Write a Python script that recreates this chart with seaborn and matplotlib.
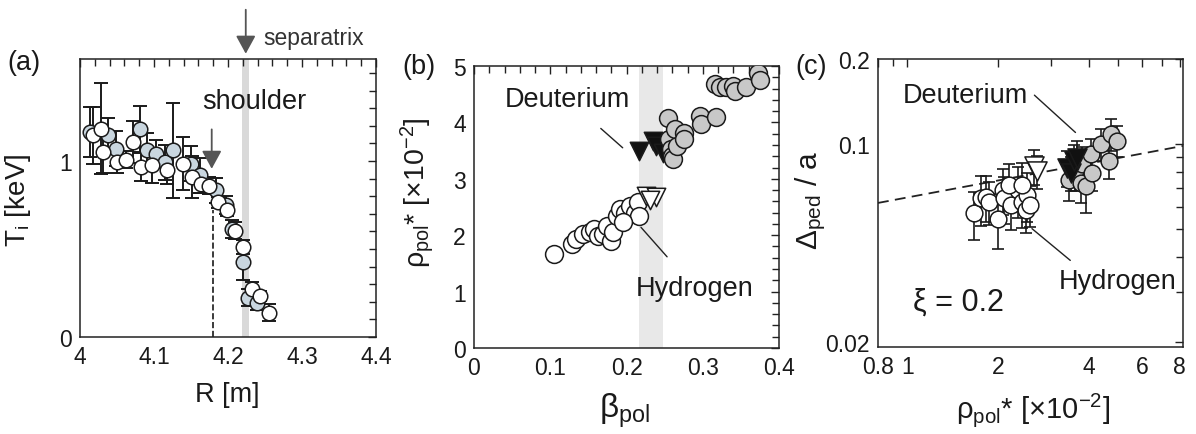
import matplotlib
matplotlib.use('Agg')
import numpy as np
import pandas as pd
import seaborn as sns
import matplotlib.pyplot as plt
from matplotlib.ticker import FixedLocator, MultipleLocator, NullFormatter

# ---- panel (a) : Ti profile
a_gray_R = [4.0135, 4.038, 4.049, 4.081, 4.090, 4.103, 4.115, 4.126, 4.150, 4.162,
            4.184, 4.197, 4.206, 4.220, 4.227, 4.239]
a_gray_Ti = [1.165, 1.146, 1.070, 1.184, 1.061, 1.042, 0.994, 1.061, 0.985, 0.918,
             0.833, 0.751, 0.614, 0.424, 0.224, 0.196]
a_gray_err = [0.14, 0.10, 0.10, 0.13, 0.10, 0.08, 0.10, 0.27, 0.10, 0.10,
              0.07, 0.05, 0.05, 0.10, 0.05, 0.04]
a_white_R = [4.018, 4.029, 4.031, 4.050, 4.062, 4.072, 4.083, 4.097, 4.118, 4.139,
             4.152, 4.164, 4.175, 4.186, 4.198, 4.209, 4.220, 4.232, 4.243, 4.255]
a_white_Ti = [1.146, 1.184, 1.051, 0.994, 1.008, 1.108, 0.966, 0.975, 0.947, 0.985,
              0.909, 0.871, 0.861, 0.766, 0.719, 0.605, 0.510, 0.272, 0.234, 0.139]
a_white_err = [0.16, 0.26, 0.12, 0.06, 0.05, 0.12, 0.08, 0.10, 0.08, 0.15,
               0.12, 0.05, 0.05, 0.03, 0.03, 0.05, 0.04, 0.04, 0.03, 0.05]
separatrix_R = 4.224
shoulder_R = 4.180
shoulder_Ti = 0.72

# ---- panel (b) : rho_pol* vs beta_pol
b_D_circ_beta = [0.254, 0.256, 0.259, 0.260, 0.261, 0.263, 0.266, 0.276, 0.276, 0.296,
                 0.298, 0.318, 0.316, 0.322, 0.331, 0.340, 0.342, 0.357, 0.372, 0.375]
b_D_circ_rho = [4.08, 3.70, 3.52, 3.41, 3.35, 3.88, 3.58, 3.82, 3.70, 4.11,
                3.97, 4.09, 4.68, 4.62, 4.62, 4.65, 4.56, 4.63, 4.88, 4.76]
b_D_tri_beta = [0.216, 0.235, 0.239, 0.248]
b_D_tri_rho = [3.49, 3.67, 3.58, 3.45]
b_H_circ_beta = [0.105, 0.128, 0.134, 0.143, 0.152, 0.158, 0.163, 0.169, 0.174, 0.180,
                 0.182, 0.187, 0.191, 0.198, 0.204, 0.211, 0.215, 0.217, 0.195]
b_H_circ_rho = [1.66, 1.84, 1.93, 2.02, 2.05, 2.11, 1.99, 2.02, 2.17, 1.90,
                2.05, 2.34, 2.46, 2.40, 2.52, 2.40, 2.58, 2.34, 2.23]
b_H_tri_beta = [0.226, 0.239, 0.231]
b_H_tri_rho = [2.70, 2.67, 2.62]
b_band = [0.216, 0.248]

# ---- panel (c) : Delta_ped/a vs rho_pol*
c_H_circ_rho = [1.664, 1.75, 1.82, 1.87, 2.0, 2.07, 2.09, 2.20, 2.32, 2.40,
                2.47, 2.50, 2.17, 2.40, 2.56]
c_H_circ_w = [0.0569, 0.0644, 0.0653, 0.0627, 0.0546, 0.0690, 0.0644, 0.0609, 0.0690, 0.0627,
              0.0585, 0.0663, 0.0719, 0.0719, 0.0609]
c_H_circ_err = [0.011, 0.013, 0.012, 0.011, 0.012, 0.013, 0.012, 0.011, 0.014, 0.012,
                0.010, 0.013, 0.013, 0.014, 0.010]
c_H_tri_rho = [2.63, 2.70]
c_H_tri_w = [0.0836, 0.0802]
c_H_tri_err = [0.012, 0.011]
c_D_circ_rho = [3.44, 3.61, 3.76, 3.90, 3.80, 4.05, 4.11, 4.38, 4.66, 4.75, 4.96]
c_D_circ_w = [0.0749, 0.0802, 0.0729, 0.0709, 0.0848, 0.0921, 0.0791, 0.100, 0.0872, 0.1086, 0.1028]
c_D_circ_err = [0.012, 0.012, 0.011, 0.014, 0.013, 0.012, 0.011, 0.013, 0.012, 0.014, 0.013]
c_D_tri_rho = [3.39, 3.48, 3.57, 3.66]
c_D_tri_w = [0.0825, 0.0791, 0.0872, 0.0896]
c_D_tri_err = [0.012, 0.011, 0.012, 0.013]
fit_rho = [0.8, 8.2]
fit_w = [0.0620, 0.0986]

sns.set_theme(style='white')
plt.rcParams['font.family'] = ['Liberation Sans', 'DejaVu Sans']
plt.rcParams['mathtext.fontset'] = 'custom'
plt.rcParams['mathtext.rm'] = 'Liberation Sans'
plt.rcParams['mathtext.it'] = 'Liberation Sans:italic'
plt.rcParams['mathtext.bf'] = 'Liberation Sans:bold'
plt.rcParams['axes.edgecolor'] = '#222222'
plt.rcParams['axes.linewidth'] = 1.1

EDGE = '#1a1a1a'
GRAYBLUE = '#c9d6df'
GRAY = '#c8c8c8'
TXT = '#1a1a1a'
TICK_FS = 16.5
NOTE_FS = 19.5

fig = plt.figure(figsize=(11.96, 4.35), dpi=100)
W, H = 1196.0, 435.0


def add_axes(l, r, t, b):
    return fig.add_axes([l / W, 1 - b / H, (r - l) / W, (b - t) / H])


def style_ticks(ax):
    ax.tick_params(which='both', direction='in', top=True, right=True,
                   color='#222222', width=1.0, labelsize=TICK_FS, pad=6, labelcolor=TXT)
    ax.tick_params(which='major', length=6)
    ax.tick_params(which='minor', length=5)


def scatter(ax, x, y, marker, fc, s, z):
    d = pd.DataFrame({'x': x, 'y': y})
    sns.scatterplot(data=d, x='x', y='y', ax=ax, marker=marker, s=s, color=fc,
                    edgecolor=EDGE, linewidth=1.1, zorder=z, legend=False)


# ================= (a)
ax = add_axes(80, 376, 60, 338)
ax.axvspan(separatrix_R - 0.005, separatrix_R + 0.005, color='#d9d9d9', zorder=0, lw=0)
ax.plot([shoulder_R, shoulder_R], [0, shoulder_Ti], ls='--', color='k', lw=1.2, zorder=1)
ax.errorbar(a_gray_R, a_gray_Ti, yerr=a_gray_err, fmt='none', ecolor=EDGE,
            elinewidth=1.4, capsize=5, capthick=1.4, zorder=2)
ax.errorbar(a_white_R, a_white_Ti, yerr=a_white_err, fmt='none', ecolor=EDGE,
            elinewidth=1.4, capsize=5, capthick=1.4, zorder=2)
scatter(ax, a_gray_R, a_gray_Ti, 'o', GRAYBLUE, 110, 3)
scatter(ax, a_white_R, a_white_Ti, 'o', 'white', 110, 4)
ax.set_xlim(4.0, 4.4)
ax.set_ylim(0, 1.58)
ax.xaxis.set_major_locator(FixedLocator([4.0, 4.1, 4.2, 4.3, 4.4]))
ax.set_xticklabels(['4', '4.1', '4.2', '4.3', '4.4'])
ax.xaxis.set_minor_locator(MultipleLocator(0.02))
ax.yaxis.set_major_locator(FixedLocator([0, 1]))
ax.set_yticklabels(['0', '1'])
ax.yaxis.set_minor_locator(MultipleLocator(0.1))
style_ticks(ax)
ax.set_xlabel('R [m]', fontsize=19.5, color=TXT)
ax.xaxis.set_label_coords(0.497, -0.16)
ax.xaxis.label.set_va('top')
ax.set_ylabel(r'T$_\mathrm{i}$ [keV]', fontsize=20, color=TXT)
ax.yaxis.set_label_coords(-0.16, 0.496)
ax.annotate('', xy=(4.178, 0.956), xytext=(4.178, 1.18),
            arrowprops=dict(arrowstyle='-|>,head_length=0.55,head_width=0.3',
                            color='#555555', lw=1.3, mutation_scale=20, shrinkA=0, shrinkB=0))
ax.text(4.235, 1.34, 'shoulder', fontsize=NOTE_FS, ha='center', va='center', color=TXT)
ax.annotate('', xy=(separatrix_R, 1.61), xytext=(separatrix_R, 1.86),
            arrowprops=dict(arrowstyle='-|>,head_length=0.55,head_width=0.3',
                            color='#555555', lw=1.3, mutation_scale=20, shrinkA=0, shrinkB=0),
            annotation_clip=False)
fig.text(263 / W, 1 - 38 / H, 'separatrix', fontsize=16.5, ha='left', va='center',
         family=['DejaVu Sans Condensed', 'Liberation Sans Narrow', 'Liberation Sans'],
         color='#333333')
fig.text(7 / W, 1 - 63 / H, '(a)', fontsize=19.5, ha='left', va='center', color=TXT)

# ================= (b)
ax = add_axes(474, 779, 67, 349)
ax.axvspan(b_band[0], b_band[1], color='#e8e8e8', zorder=0, lw=0)
scatter(ax, b_H_circ_beta, b_H_circ_rho, 'o', 'white', 165, 2)
scatter(ax, b_H_tri_beta, b_H_tri_rho, 'v', 'white', 175, 3)
scatter(ax, b_D_tri_beta, b_D_tri_rho, 'v', '#111111', 175, 3)
scatter(ax, b_D_circ_beta, b_D_circ_rho, 'o', GRAY, 165, 4)
ax.set_xlim(0, 0.4)
ax.set_ylim(0, 5)
ax.xaxis.set_major_locator(FixedLocator([0, 0.1, 0.2, 0.3, 0.4]))
ax.set_xticklabels(['0', '0.1', '0.2', '0.3', '0.4'])
ax.xaxis.set_minor_locator(MultipleLocator(0.02))
ax.yaxis.set_major_locator(FixedLocator([0, 1, 2, 3, 4, 5]))
ax.set_yticklabels(['0', '1', '2', '3', '4', '5'])
ax.yaxis.set_minor_locator(MultipleLocator(0.2))
style_ticks(ax)
ax.set_xlabel(r'β$_\mathrm{pol}$', fontsize=24, color=TXT)
ax.xaxis.set_label_coords(0.495, -0.15)
ax.xaxis.label.set_va('top')
ax.set_ylabel(r'ρ$_\mathrm{pol}$* [×10$^\mathrm{-2}$]', fontsize=20.5, color=TXT)
ax.yaxis.set_label_coords(-0.125, 0.553)
ax.annotate('Deuterium', xy=(0.195, 3.55), xytext=(0.123, 4.41), fontsize=NOTE_FS,
            ha='center', va='center', color=TXT,
            arrowprops=dict(arrowstyle='-', color='#222222', lw=1.0, shrinkA=14, shrinkB=0))
ax.annotate('Hydrogen', xy=(0.219, 2.14), xytext=(0.289, 1.07), fontsize=NOTE_FS,
            ha='center', va='center', color=TXT,
            arrowprops=dict(arrowstyle='-', color='#222222', lw=1.0, shrinkA=14, shrinkB=0))
fig.text(402 / W, 1 - 67 / H, '(b)', fontsize=19.5, ha='left', va='center', color=TXT)

# ================= (c)
ax = add_axes(878, 1183, 60, 348)
ax.set_xscale('log')
ax.set_yscale('log')
ax.plot(fit_rho, fit_w, ls=(0, (6, 3.5)), color='#222222', lw=1.3, zorder=1)
for xs, ys, es in [(c_H_circ_rho, c_H_circ_w, c_H_circ_err), (c_H_tri_rho, c_H_tri_w, c_H_tri_err),
                   (c_D_circ_rho, c_D_circ_w, c_D_circ_err), (c_D_tri_rho, c_D_tri_w, c_D_tri_err)]:
    ax.errorbar(xs, ys, yerr=es, fmt='none', ecolor=EDGE, elinewidth=1.2,
                capsize=4, capthick=1.2, zorder=2)
scatter(ax, c_H_circ_rho, c_H_circ_w, 'o', 'white', 145, 3)
scatter(ax, c_H_tri_rho, c_H_tri_w, 'v', 'white', 190, 4)
scatter(ax, c_D_circ_rho, c_D_circ_w, 'o', GRAY, 145, 5)
scatter(ax, c_D_tri_rho, c_D_tri_w, 'v', '#111111', 190, 6)
ax.set_xlim(0.8, 8.2)
ax.set_ylim(0.0192, 0.2)
ax.xaxis.set_major_locator(FixedLocator([0.8, 1, 2, 4, 6, 8]))
ax.set_xticklabels(['0.8', '1', '2', '4', '6', '8'])
ax.xaxis.set_minor_locator(FixedLocator([0.9, 3, 5, 7]))
ax.xaxis.set_minor_formatter(NullFormatter())
ax.yaxis.set_major_locator(FixedLocator([0.02, 0.1, 0.2]))
ax.set_yticklabels(['0.02', '0.1', '0.2'])
ax.yaxis.set_minor_locator(FixedLocator([0.03, 0.04, 0.05, 0.06, 0.07, 0.08, 0.09]))
ax.yaxis.set_minor_formatter(NullFormatter())
style_ticks(ax)
ax.set_xlabel(r'ρ$_\mathrm{pol}$* [×10$^\mathrm{-2}$]', fontsize=21, color=TXT)
ax.xaxis.set_label_coords(0.508, -0.15)
ax.xaxis.label.set_va('top')
ax.set_ylabel(r'Δ$_\mathrm{ped}$ / a', fontsize=21.5, color=TXT)
ax.yaxis.set_label_coords(-0.165, 0.514)
ax.annotate('Deuterium', xy=(3.61, 0.110), xytext=(1.56, 0.149), fontsize=NOTE_FS,
            ha='center', va='center', color=TXT,
            arrowprops=dict(arrowstyle='-', color='#222222', lw=1.0, shrinkA=0, shrinkB=0,
                            relpos=(1.05, 0.5)))
ax.annotate('Hydrogen', xy=(2.59, 0.0503), xytext=(4.97, 0.0328), fontsize=NOTE_FS,
            ha='center', va='center', color=TXT,
            arrowprops=dict(arrowstyle='-', color='#222222', lw=1.0, shrinkA=0, shrinkB=0,
                            relpos=(0.1, 1.3)))
ax.text(1.48, 0.0278, 'ξ = 0.2', fontsize=22, ha='center', va='center', color=TXT)
fig.text(795 / W, 1 - 67 / H, '(c)', fontsize=19.5, ha='left', va='center', color=TXT)

fig.savefig('out.png', dpi=100)
